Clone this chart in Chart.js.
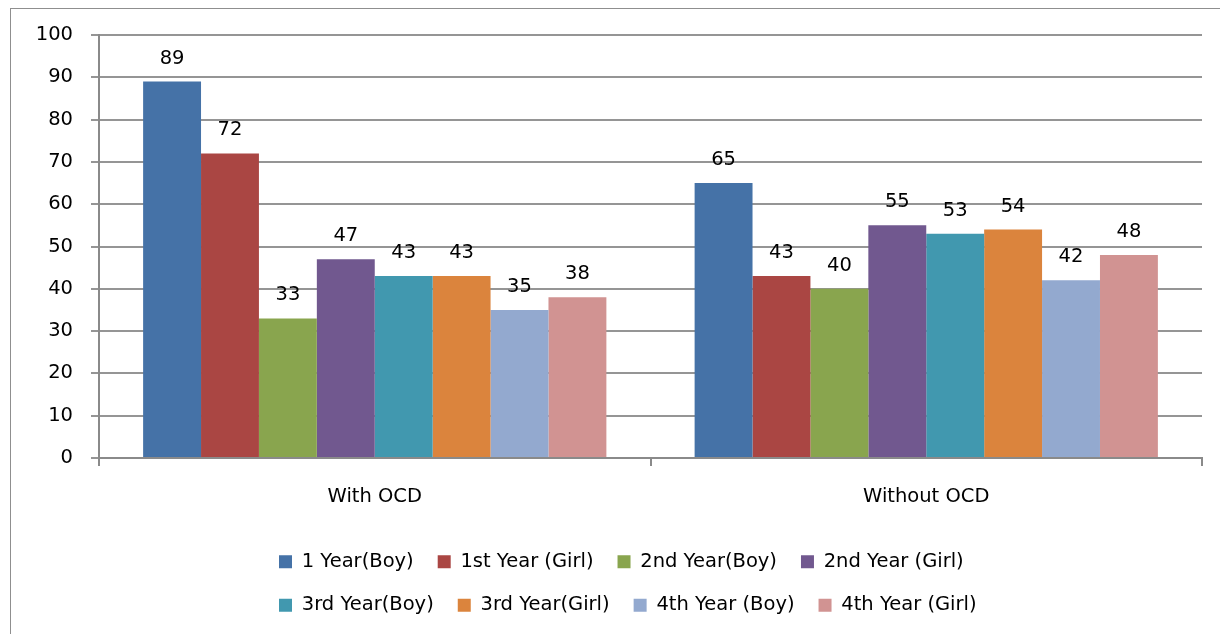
<!DOCTYPE html>
<html>
<head>
<meta charset="utf-8">
<script src="https://cdn.jsdelivr.net/npm/chart.js@4/dist/chart.umd.min.js"></script>
<style>
  body { margin: 0; background: #fff; overflow: hidden; }
  #frame { position: absolute; left: 10px; top: 8px; width: 1300px; height: 700px; border: 1px solid #8f8f8f; }
  #wrap { position: absolute; left: 0; top: 0; width: 1220px; height: 634px; }
</style>
</head>
<body>
<div id="frame"></div>
<div id="wrap"><canvas id="myChart"></canvas></div>
<script>
// data
const categories = ['With OCD', 'Without OCD'];
const seriesNames = ['1 Year(Boy)', '1st Year (Girl)', '2nd Year(Boy)', '2nd Year (Girl)',
                     '3rd Year(Boy)', '3rd Year(Girl)', '4th Year (Boy)', '4th Year (Girl)'];
const withOCD = [89, 72, 33, 47, 43, 43, 35, 38];
const withoutOCD = [65, 43, 40, 55, 53, 54, 42, 48];
const yTicks = [0, 10, 20, 30, 40, 50, 60, 70, 80, 90, 100];

const colors = ['#4572A7', '#AA4643', '#89A54E', '#71588F', '#4198AF', '#DB843D', '#93A9CF', '#D19392'];

const fontFamily = '"DejaVu Sans", sans-serif';
const fontSize = 19.5;

function GetDataSets() {
  var sets = [];
  for (var i = 0; i < seriesNames.length; i++) {
    sets.push({
      label: seriesNames[i],
      data: [withOCD[i], withoutOCD[i]],
      backgroundColor: colors[i],
      borderWidth: 0,
      categoryPercentage: 0.84,
      barPercentage: 1.0
    });
  }
  return sets;
}

// value labels above bars
const valueLabels = {
  id: 'valueLabels',
  afterDatasetsDraw(chart) {
    const ctx = chart.ctx;
    ctx.save();
    ctx.font = fontSize + 'px ' + fontFamily;
    ctx.fillStyle = '#000';
    ctx.textAlign = 'center';
    ctx.textBaseline = 'alphabetic';
    chart.data.datasets.forEach((ds, i) => {
      chart.getDatasetMeta(i).data.forEach((bar, j) => {
        ctx.fillText(ds.data[j], bar.x, bar.y - 18);
      });
    });
    ctx.restore();
  }
};

// squeeze the legend into a narrower box so it wraps 4 + 4 like the original
const legendBox = {
  id: 'legendBox',
  afterLayout(chart) {
    const lg = chart.legend;
    if (!lg) return;
    lg.left = 255;
    lg.right = 1050;
    lg.width = lg.right - lg.left;
    lg.top = 528;
    lg.bottom = 639;
  }
};

const ctx = document.getElementById('myChart').getContext('2d');
const myChart = new Chart(ctx, {
  type: 'bar',
  data: {
    labels: categories,
    datasets: GetDataSets()
  },
  plugins: [valueLabels, legendBox],
  options: {
    responsive: true,
    maintainAspectRatio: false,
    animation: false,
    layout: { padding: { left: 10, right: 18, top: 35, bottom: 27 } },
    plugins: {
      tooltip: { enabled: false },
      legend: {
        position: 'bottom',
        align: 'start',
        labels: {
          boxWidth: 13,
          boxHeight: 13,
          padding: 24,
          color: '#000',
          font: { family: fontFamily, size: fontSize }
        }
      }
    },
    scales: {
      x: {
        offset: true,
        afterFit: axis => { axis.height = 52; },
        grid: { offset: true, drawOnChartArea: false, color: '#8a8a8a', lineWidth: 2, tickLength: 8 },
        border: { color: '#8a8a8a', width: 2 },
        ticks: { color: '#000', font: { family: fontFamily, size: fontSize }, padding: 19 }
      },
      y: {
        min: 0,
        max: 100,
        afterFit: axis => { axis.width = 89; },
        afterBuildTicks: axis => { axis.ticks = yTicks.map(v => ({ value: v })); },
        grid: { color: '#959595', lineWidth: 2, tickLength: 8 },
        border: { color: '#8a8a8a', width: 2 },
        ticks: { color: '#000', font: { family: fontFamily, size: fontSize }, padding: 18 }
      }
    }
  }
});
</script>
</body>
</html>
